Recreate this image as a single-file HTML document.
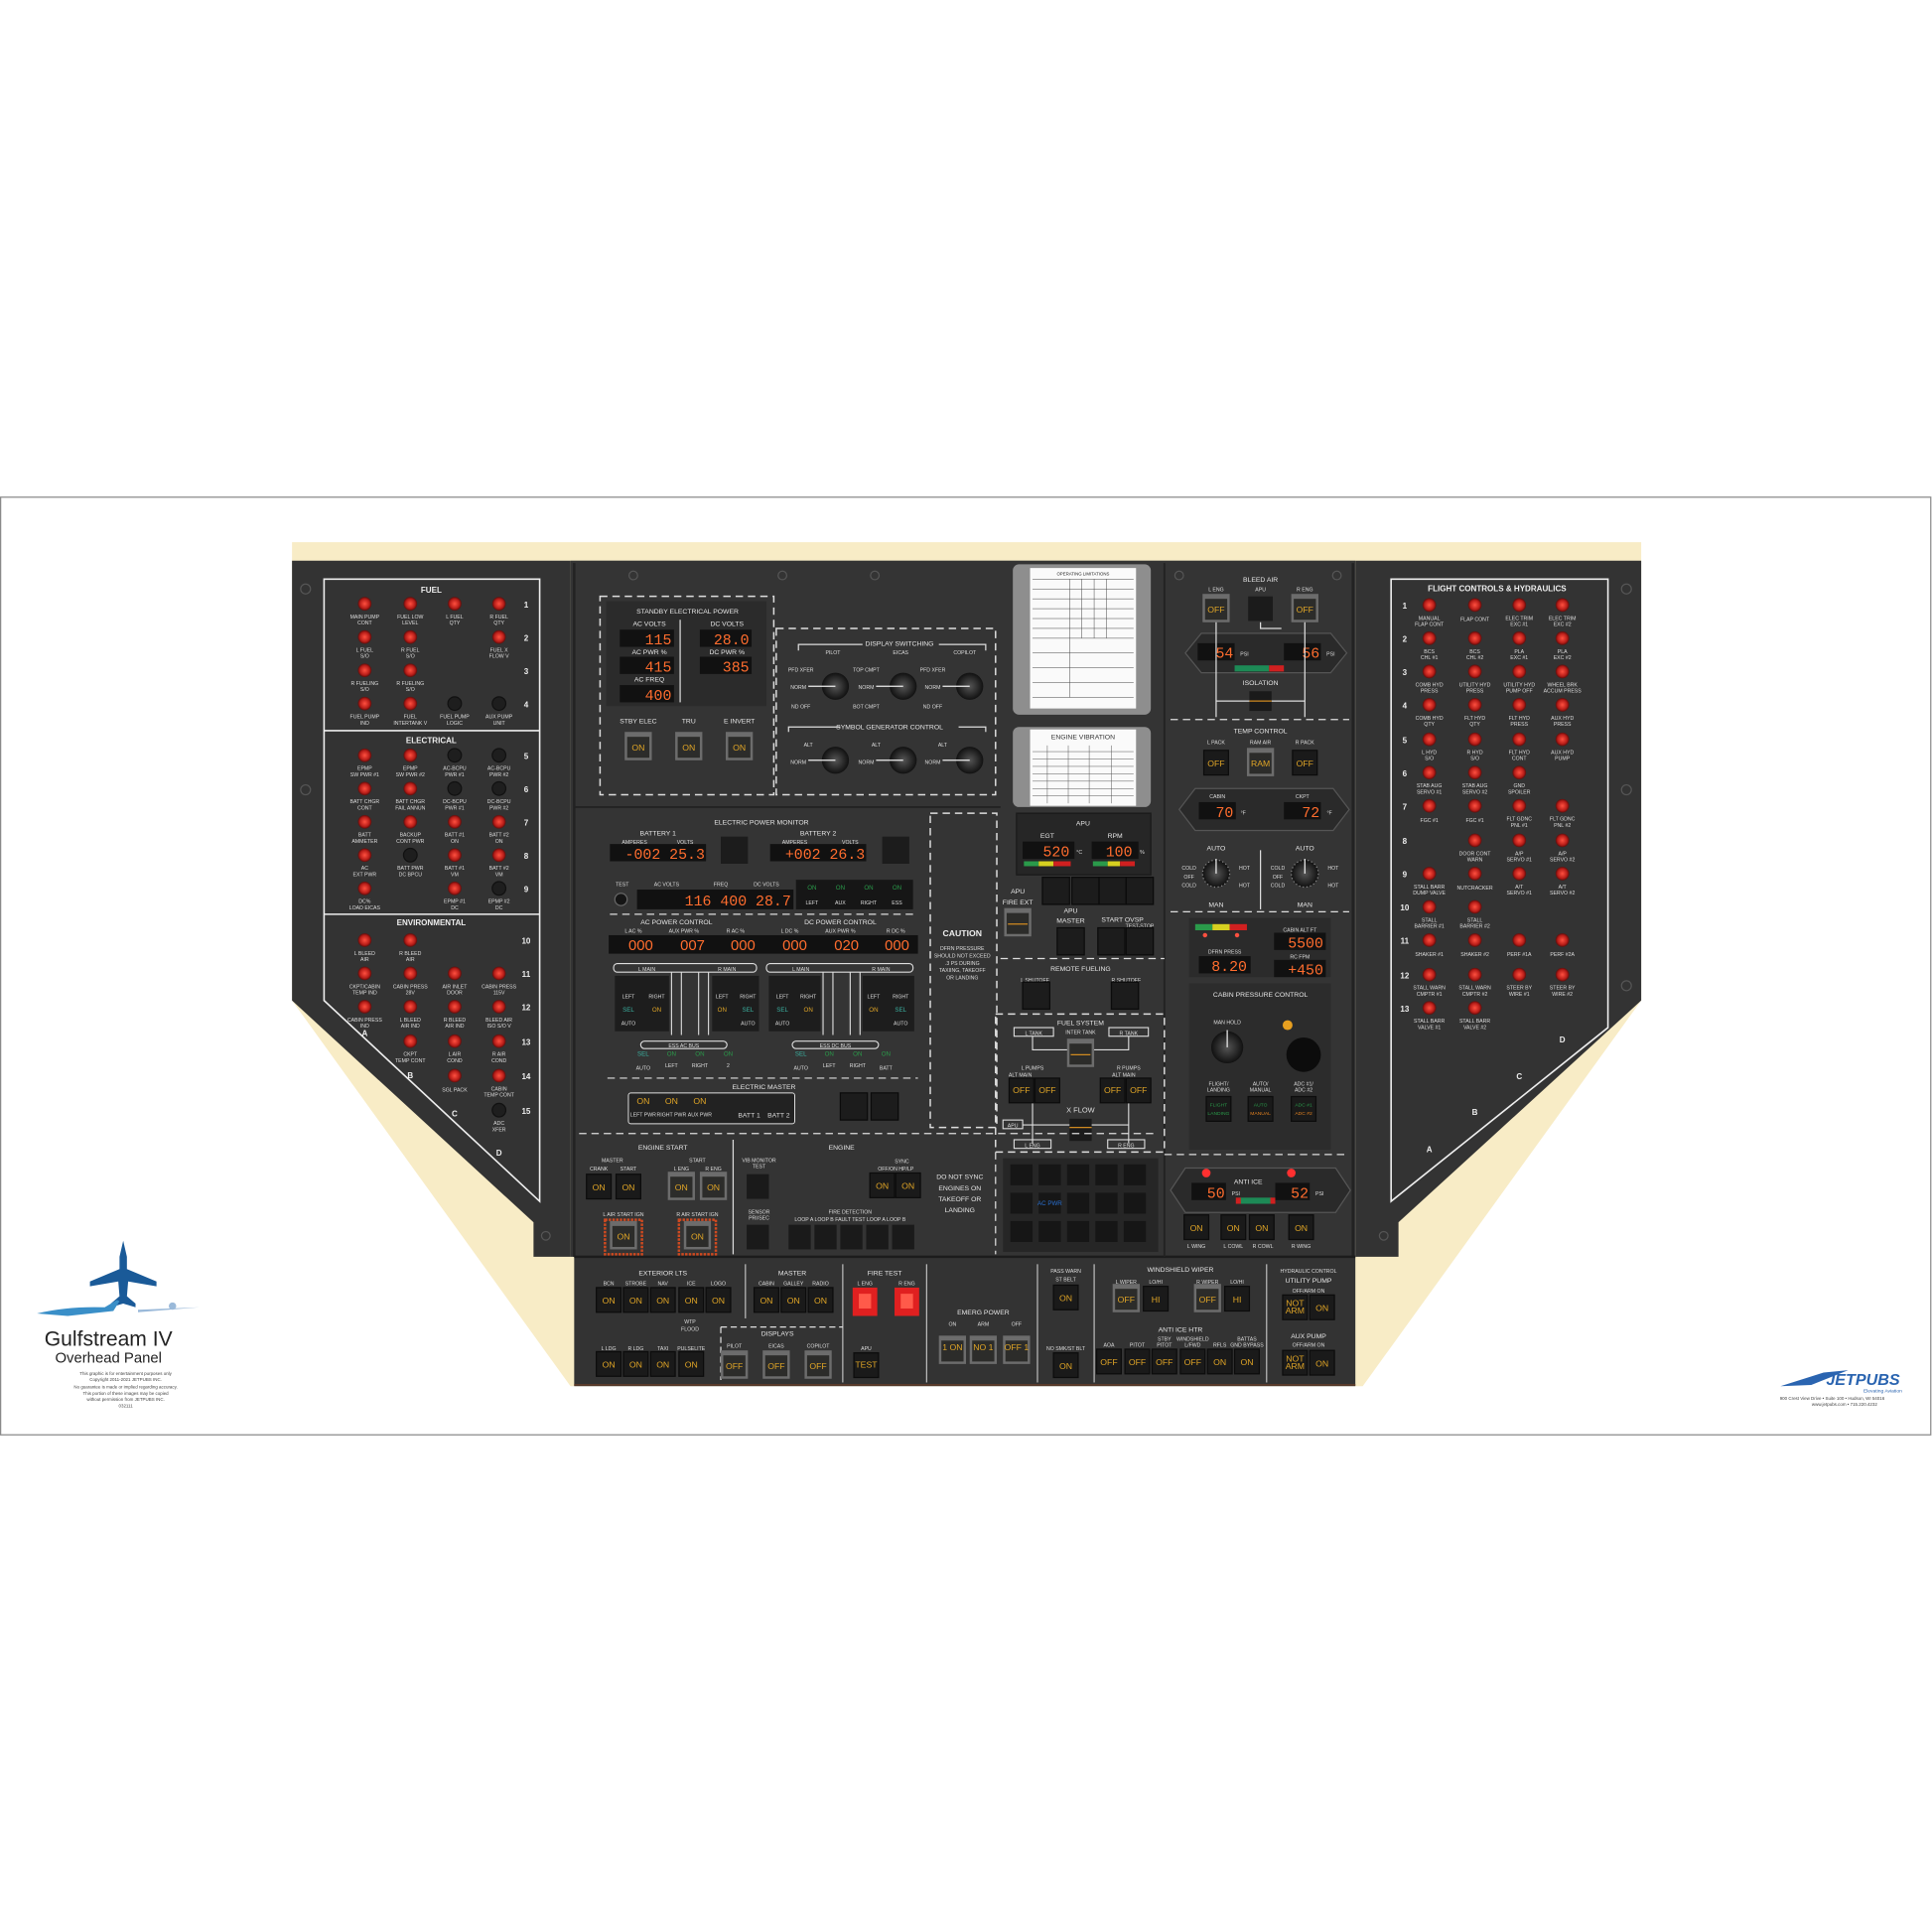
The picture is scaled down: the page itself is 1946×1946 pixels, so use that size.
<!DOCTYPE html>
<html><head><meta charset="utf-8"><style>
html,body{margin:0;padding:0;background:#fff;}
svg{display:block}
text{font-family:"Liberation Sans",sans-serif;}
.l{font-size:4.2px;fill:#ddd;text-anchor:middle}
.t{font-size:7px;fill:#eee;text-anchor:middle;font-weight:bold}
.s{font-size:5.5px;fill:#e6e6e6;text-anchor:middle}
.n{font-size:6.5px;fill:#eee;text-anchor:middle;font-weight:bold}
.d{font-family:"Liberation Mono",monospace;font-size:12px;fill:#ff6d2e;text-anchor:end}
.a{font-size:7px;fill:#e0a526;text-anchor:middle}
.dash{fill:none;stroke:#ddd;stroke-width:1.2;stroke-dasharray:6 4}
</style></head><body>
<svg width="1946" height="1946" viewBox="0 0 1568 1568" xmlns="http://www.w3.org/2000/svg">
<defs>
<radialGradient id="rg"><stop offset="0" stop-color="#ff5040"/><stop offset="0.7" stop-color="#b81d18"/><stop offset="1" stop-color="#5a0e0c"/></radialGradient>
<radialGradient id="kg"><stop offset="0" stop-color="#555"/><stop offset="1" stop-color="#111"/></radialGradient>
<g id="lt"><circle r="5.5" fill="url(#rg)"/></g>
<g id="dk"><circle r="5.5" fill="#1e1e1e" stroke="#111"/></g>
<g id="sw"><rect x="-10" y="-10" width="20" height="20" fill="#1a1a1a" stroke="#0c0c0c"/></g>
<g id="gs"><rect x="-11" y="-12" width="22" height="23" fill="#6c6c6c"/><rect x="-9" y="-8" width="18" height="17" fill="#2c2c2a"/></g>
<g id="kn"><circle r="11" fill="url(#kg)"/><line x1="-22" y1="0" x2="0" y2="0" stroke="#eee" stroke-width="1"/></g>
<g id="bx"><rect x="-11" y="-11" width="22" height="22" fill="#1c1c1c" stroke="#0b0b0b"/></g>
</defs>
<rect width="1568" height="1568" fill="#fff"/>
<rect x="0.5" y="403.5" width="1566.5" height="761" fill="#fff" stroke="#8a8a8a"/>
<!-- cream -->
<polygon points="237,440 1332,440 1332,812 1106,1125 463,1125 237,812" fill="#f8ecc6"/>
<!-- left wing -->
<polygon points="237,455 463,455 463,1020 433,1020 433,992 237,812" fill="#333333"/>
<polygon points="263,470 438,470 438,975 263,812" fill="none" stroke="#eee" stroke-width="1.3"/>
<line x1="263" y1="593" x2="438" y2="593" stroke="#eee" stroke-width="1.3"/>
<line x1="263" y1="742" x2="438" y2="742" stroke="#eee" stroke-width="1.3"/>
<!-- right wing -->
<polygon points="1100,455 1332,455 1332,812 1135,992 1135,1020 1100,1020" fill="#333333"/>
<polygon points="1129,470 1305,470 1305,834 1129,975" fill="none" stroke="#eee" stroke-width="1.3"/>
<!-- center -->
<rect x="463" y="455" width="637" height="565" fill="#343434"/>
<line x1="466" y1="457" x2="466" y2="1020" stroke="#222" stroke-width="2"/>
<line x1="1098" y1="457" x2="1098" y2="1020" stroke="#222" stroke-width="2"/>
<rect x="466" y="1020" width="634" height="105" fill="#333"/>
<line x1="466" y1="1020" x2="1100" y2="1020" stroke="#1c1c1c" stroke-width="2"/>
<line x1="466" y1="1124" x2="1100" y2="1124" stroke="#5a3a2a" stroke-width="1.5"/>
<line x1="466" y1="655" x2="812" y2="655" stroke="#222" stroke-width="1.5"/>
<line x1="945" y1="457" x2="945" y2="1020" stroke="#222" stroke-width="1.5"/>

<!-- LEFT WING TEXT -->
<text class="n" x="350" y="481">FUEL</text>
<text class="n" x="350" y="603">ELECTRICAL</text>
<text class="n" x="350" y="751">ENVIRONMENTAL</text>
<g class="n">
<text x="427" y="493">1</text><text x="427" y="520">2</text><text x="427" y="547">3</text><text x="427" y="574">4</text>
<text x="427" y="616">5</text><text x="427" y="643">6</text><text x="427" y="670">7</text><text x="427" y="697">8</text><text x="427" y="724">9</text>
<text x="427" y="766">10</text><text x="427" y="793">11</text><text x="427" y="820">12</text><text x="427" y="848">13</text><text x="427" y="876">14</text><text x="427" y="904">15</text>
<text x="296" y="841">A</text><text x="333" y="875">B</text><text x="369" y="906">C</text><text x="405" y="938">D</text>
</g>
<use href="#lt" x="296" y="490"/><use href="#lt" x="333" y="490"/><use href="#lt" x="369" y="490"/><use href="#lt" x="405" y="490"/>
<use href="#lt" x="296" y="517"/><use href="#lt" x="333" y="517"/><use href="#lt" x="405" y="517"/>
<use href="#lt" x="296" y="544"/><use href="#lt" x="333" y="544"/>
<use href="#lt" x="296" y="571"/><use href="#lt" x="333" y="571"/><use href="#dk" x="369" y="571"/><use href="#dk" x="405" y="571"/>
<use href="#lt" x="296" y="613"/><use href="#lt" x="333" y="613"/><use href="#dk" x="369" y="613"/><use href="#dk" x="405" y="613"/>
<use href="#lt" x="296" y="640"/><use href="#lt" x="333" y="640"/><use href="#dk" x="369" y="640"/><use href="#dk" x="405" y="640"/>
<use href="#lt" x="296" y="667"/><use href="#lt" x="333" y="667"/><use href="#lt" x="369" y="667"/><use href="#lt" x="405" y="667"/>
<use href="#lt" x="296" y="694"/><use href="#dk" x="333" y="694"/><use href="#lt" x="369" y="694"/><use href="#lt" x="405" y="694"/>
<use href="#lt" x="296" y="721"/><use href="#lt" x="369" y="721"/><use href="#dk" x="405" y="721"/>
<use href="#lt" x="296" y="763"/><use href="#lt" x="333" y="763"/>
<use href="#lt" x="296" y="790"/><use href="#lt" x="333" y="790"/><use href="#lt" x="369" y="790"/><use href="#lt" x="405" y="790"/>
<use href="#lt" x="296" y="817"/><use href="#lt" x="333" y="817"/><use href="#lt" x="369" y="817"/><use href="#lt" x="405" y="817"/>
<use href="#lt" x="333" y="845"/><use href="#lt" x="369" y="845"/><use href="#lt" x="405" y="845"/>
<use href="#lt" x="369" y="873"/><use href="#lt" x="405" y="873"/>
<use href="#dk" x="405" y="901"/>
<g class="l">
<text x="296" y="502">MAIN PUMP</text><text x="296" y="507">CONT</text>
<text x="333" y="502">FUEL LOW</text><text x="333" y="507">LEVEL</text>
<text x="369" y="502">L FUEL</text><text x="369" y="507">QTY</text>
<text x="405" y="502">R FUEL</text><text x="405" y="507">QTY</text>
<text x="296" y="529">L FUEL</text><text x="296" y="534">S/O</text>
<text x="333" y="529">R FUEL</text><text x="333" y="534">S/O</text>
<text x="405" y="529">FUEL X</text><text x="405" y="534">FLOW V</text>
<text x="296" y="556">R FUELING</text><text x="296" y="561">S/O</text>
<text x="333" y="556">R FUELING</text><text x="333" y="561">S/O</text>
<text x="296" y="583">FUEL PUMP</text><text x="296" y="588">IND</text>
<text x="333" y="583">FUEL</text><text x="333" y="588">INTERTANK V</text>
<text x="369" y="583">FUEL PUMP</text><text x="369" y="588">LOGIC</text>
<text x="405" y="583">AUX PUMP</text><text x="405" y="588">UNIT</text>
<text x="296" y="625">EPMP</text><text x="296" y="630">SW PWR #1</text>
<text x="333" y="625">EPMP</text><text x="333" y="630">SW PWR #2</text>
<text x="369" y="625">AC-BCPU</text><text x="369" y="630">PWR #1</text>
<text x="405" y="625">AC-BCPU</text><text x="405" y="630">PWR #2</text>
<text x="296" y="652">BATT CHGR</text><text x="296" y="657">CONT</text>
<text x="333" y="652">BATT CHGR</text><text x="333" y="657">FAIL ANNUN</text>
<text x="369" y="652">DC-BCPU</text><text x="369" y="657">PWR #1</text>
<text x="405" y="652">DC-BCPU</text><text x="405" y="657">PWR #2</text>
<text x="296" y="679">BATT</text><text x="296" y="684">AMMETER</text>
<text x="333" y="679">BACKUP</text><text x="333" y="684">CONT PWR</text>
<text x="369" y="679">BATT #1</text><text x="369" y="684">ON</text>
<text x="405" y="679">BATT #2</text><text x="405" y="684">ON</text>
<text x="296" y="706">AC</text><text x="296" y="711">EXT PWR</text>
<text x="333" y="706">BATT PWR</text><text x="333" y="711">DC BPCU</text>
<text x="369" y="706">BATT #1</text><text x="369" y="711">VM</text>
<text x="405" y="706">BATT #2</text><text x="405" y="711">VM</text>
<text x="296" y="733">DC%</text><text x="296" y="738">LOAD EICAS</text>
<text x="369" y="733">EPMP #1</text><text x="369" y="738">DC</text>
<text x="405" y="733">EPMP #2</text><text x="405" y="738">DC</text>
<text x="296" y="775">L BLEED</text><text x="296" y="780">AIR</text>
<text x="333" y="775">R BLEED</text><text x="333" y="780">AIR</text>
<text x="296" y="802">CKPT/CABIN</text><text x="296" y="807">TEMP IND</text>
<text x="333" y="802">CABIN PRESS</text><text x="333" y="807">28V</text>
<text x="369" y="802">AIR INLET</text><text x="369" y="807">DOOR</text>
<text x="405" y="802">CABIN PRESS</text><text x="405" y="807">115V</text>
<text x="296" y="829">CABIN PRESS</text><text x="296" y="834">IND</text>
<text x="333" y="829">L BLEED</text><text x="333" y="834">AIR IND</text>
<text x="369" y="829">R BLEED</text><text x="369" y="834">AIR IND</text>
<text x="405" y="829">BLEED AIR</text><text x="405" y="834">ISO S/O V</text>
<text x="333" y="857">CKPT</text><text x="333" y="862">TEMP CONT</text>
<text x="369" y="857">L AIR</text><text x="369" y="862">COND</text>
<text x="405" y="857">R AIR</text><text x="405" y="862">COND</text>
<text x="369" y="886">SGL PACK</text>
<text x="405" y="885">CABIN</text><text x="405" y="890">TEMP CONT</text>
<text x="405" y="913">ADC</text><text x="405" y="918">XFER</text>
</g>

<!-- RIGHT WING -->
<text class="n" x="1215" y="480">FLIGHT CONTROLS &amp; HYDRAULICS</text>
<g class="n">
<text x="1140" y="494">1</text><text x="1140" y="521">2</text><text x="1140" y="548">3</text><text x="1140" y="575">4</text><text x="1140" y="603">5</text><text x="1140" y="630">6</text><text x="1140" y="657">7</text><text x="1140" y="685">8</text><text x="1140" y="712">9</text><text x="1140" y="739">10</text><text x="1140" y="766">11</text><text x="1140" y="794">12</text><text x="1140" y="821">13</text>
<text x="1268" y="846">D</text><text x="1233" y="876">C</text><text x="1197" y="905">B</text><text x="1160" y="935">A</text>
</g>
<g>
<use href="#lt" x="1160" y="491"/><use href="#lt" x="1197" y="491"/><use href="#lt" x="1233" y="491"/><use href="#lt" x="1268" y="491"/>
<use href="#lt" x="1160" y="518"/><use href="#lt" x="1197" y="518"/><use href="#lt" x="1233" y="518"/><use href="#lt" x="1268" y="518"/>
<use href="#lt" x="1160" y="545"/><use href="#lt" x="1197" y="545"/><use href="#lt" x="1233" y="545"/><use href="#lt" x="1268" y="545"/>
<use href="#lt" x="1160" y="572"/><use href="#lt" x="1197" y="572"/><use href="#lt" x="1233" y="572"/><use href="#lt" x="1268" y="572"/>
<use href="#lt" x="1160" y="600"/><use href="#lt" x="1197" y="600"/><use href="#lt" x="1233" y="600"/><use href="#lt" x="1268" y="600"/>
<use href="#lt" x="1160" y="627"/><use href="#lt" x="1197" y="627"/><use href="#lt" x="1233" y="627"/>
<use href="#lt" x="1160" y="654"/><use href="#lt" x="1197" y="654"/><use href="#lt" x="1233" y="654"/><use href="#lt" x="1268" y="654"/>
<use href="#lt" x="1197" y="682"/><use href="#lt" x="1233" y="682"/><use href="#lt" x="1268" y="682"/>
<use href="#lt" x="1160" y="709"/><use href="#lt" x="1197" y="709"/><use href="#lt" x="1233" y="709"/><use href="#lt" x="1268" y="709"/>
<use href="#lt" x="1160" y="736"/><use href="#lt" x="1197" y="736"/>
<use href="#lt" x="1160" y="763"/><use href="#lt" x="1197" y="763"/><use href="#lt" x="1233" y="763"/><use href="#lt" x="1268" y="763"/>
<use href="#lt" x="1160" y="791"/><use href="#lt" x="1197" y="791"/><use href="#lt" x="1233" y="791"/><use href="#lt" x="1268" y="791"/>
<use href="#lt" x="1160" y="818"/><use href="#lt" x="1197" y="818"/>
</g>
<g class="l">
<text x="1160" y="503">MANUAL</text><text x="1160" y="508">FLAP CONT</text>
<text x="1197" y="504">FLAP CONT</text>
<text x="1233" y="503">ELEC TRIM</text><text x="1233" y="508">EXC #1</text>
<text x="1268" y="503">ELEC TRIM</text><text x="1268" y="508">EXC #2</text>
<text x="1160" y="530">BCS</text><text x="1160" y="535">CHL #1</text>
<text x="1197" y="530">BCS</text><text x="1197" y="535">CHL #2</text>
<text x="1233" y="530">PLA</text><text x="1233" y="535">EXC #1</text>
<text x="1268" y="530">PLA</text><text x="1268" y="535">EXC #2</text>
<text x="1160" y="557">COMB HYD</text><text x="1160" y="562">PRESS</text>
<text x="1197" y="557">UTILITY HYD</text><text x="1197" y="562">PRESS</text>
<text x="1233" y="557">UTILITY HYD</text><text x="1233" y="562">PUMP OFF</text>
<text x="1268" y="557">WHEEL BRK</text><text x="1268" y="562">ACCUM PRESS</text>
<text x="1160" y="584">COMB HYD</text><text x="1160" y="589">QTY</text>
<text x="1197" y="584">FLT HYD</text><text x="1197" y="589">QTY</text>
<text x="1233" y="584">FLT HYD</text><text x="1233" y="589">PRESS</text>
<text x="1268" y="584">AUX HYD</text><text x="1268" y="589">PRESS</text>
<text x="1160" y="612">L HYD</text><text x="1160" y="617">S/O</text>
<text x="1197" y="612">R HYD</text><text x="1197" y="617">S/O</text>
<text x="1233" y="612">FLT HYD</text><text x="1233" y="617">CONT</text>
<text x="1268" y="612">AUX HYD</text><text x="1268" y="617">PUMP</text>
<text x="1160" y="639">STAB AUG</text><text x="1160" y="644">SERVO #1</text>
<text x="1197" y="639">STAB AUG</text><text x="1197" y="644">SERVO #2</text>
<text x="1233" y="639">GND</text><text x="1233" y="644">SPOILER</text>
<text x="1160" y="667">FGC #1</text><text x="1197" y="667">FGC #1</text>
<text x="1233" y="666">FLT GDNC</text><text x="1233" y="671">PNL #1</text>
<text x="1268" y="666">FLT GDNC</text><text x="1268" y="671">PNL #2</text>
<text x="1197" y="694">DOOR CONT</text><text x="1197" y="699">WARN</text>
<text x="1233" y="694">A/P</text><text x="1233" y="699">SERVO #1</text>
<text x="1268" y="694">A/P</text><text x="1268" y="699">SERVO #2</text>
<text x="1160" y="721">STALL BARR</text><text x="1160" y="726">DUMP VALVE</text>
<text x="1197" y="722">NUTCRACKER</text>
<text x="1233" y="721">A/T</text><text x="1233" y="726">SERVO #1</text>
<text x="1268" y="721">A/T</text><text x="1268" y="726">SERVO #2</text>
<text x="1160" y="748">STALL</text><text x="1160" y="753">BARRIER #1</text>
<text x="1197" y="748">STALL</text><text x="1197" y="753">BARRIER #2</text>
<text x="1160" y="776">SHAKER #1</text><text x="1197" y="776">SHAKER #2</text>
<text x="1233" y="776">PERF #1A</text><text x="1268" y="776">PERF #2A</text>
<text x="1160" y="803">STALL WARN</text><text x="1160" y="808">CMPTR #1</text>
<text x="1197" y="803">STALL WARN</text><text x="1197" y="808">CMPTR #2</text>
<text x="1233" y="803">STEER BY</text><text x="1233" y="808">WIRE #1</text>
<text x="1268" y="803">STEER BY</text><text x="1268" y="808">WIRE #2</text>
<text x="1160" y="830">STALL BARR</text><text x="1160" y="835">VALVE #1</text>
<text x="1197" y="830">STALL BARR</text><text x="1197" y="835">VALVE #2</text>
</g>

<!-- STANDBY ELECTRICAL POWER -->
<rect class="dash" x="487" y="484" width="141" height="161"/>
<rect x="492" y="488" width="130" height="85" fill="#2b2b2b"/>
<text class="s" x="558" y="498">STANDBY ELECTRICAL POWER</text>
<line x1="552" y1="503" x2="552" y2="570" stroke="#ddd"/>
<text class="s" x="527" y="508">AC VOLTS</text><text class="s" x="590" y="508">DC VOLTS</text>
<rect x="503" y="511" width="44" height="14" fill="#111"/><text class="d" x="545" y="523">115</text>
<rect x="568" y="511" width="42" height="14" fill="#111"/><text class="d" x="608" y="523">28.0</text>
<text class="s" x="527" y="531">AC PWR %</text><text class="s" x="590" y="531">DC PWR %</text>
<rect x="503" y="533" width="44" height="14" fill="#111"/><text class="d" x="545" y="545">415</text>
<rect x="568" y="533" width="42" height="14" fill="#111"/><text class="d" x="608" y="545">385</text>
<text class="s" x="527" y="553">AC FREQ</text>
<rect x="503" y="556" width="44" height="14" fill="#111"/><text class="d" x="545" y="568">400</text>
<text class="s" x="518" y="587">STBY ELEC</text><text class="s" x="559" y="587">TRU</text><text class="s" x="600" y="587">E INVERT</text>
<use href="#gs" x="518" y="606"/><use href="#gs" x="559" y="606"/><use href="#gs" x="600" y="606"/>
<text class="a" x="518" y="609">ON</text><text class="a" x="559" y="609">ON</text><text class="a" x="600" y="609">ON</text>

<!-- DISPLAY SWITCHING -->
<rect class="dash" x="630" y="510" width="178" height="135"/>
<text class="s" x="730" y="524">DISPLAY SWITCHING</text>
<path d="M648,528 V523 H700 M762,523 H800 V528 M640,594 V590 H682 M778,590 H800 V594" stroke="#ddd" fill="none"/>
<text class="l" x="676" y="531">PILOT</text><text class="l" x="731" y="531">EICAS</text><text class="l" x="783" y="531">COPILOT</text>
<use href="#kn" x="678" y="557"/><use href="#kn" x="733" y="557"/><use href="#kn" x="787" y="557"/>
<use href="#kn" x="678" y="617"/><use href="#kn" x="733" y="617"/><use href="#kn" x="787" y="617"/>
<g class="l"><text x="650" y="545">PFD XFER</text><text x="648" y="559">NORM</text><text x="650" y="575">ND OFF</text>
<text x="703" y="545">TOP CMPT</text><text x="703" y="559">NORM</text><text x="703" y="575">BOT CMPT</text>
<text x="757" y="545">PFD XFER</text><text x="757" y="559">NORM</text><text x="757" y="575">ND OFF</text>
<text x="656" y="606">ALT</text><text x="648" y="620">NORM</text><text x="711" y="606">ALT</text><text x="703" y="620">NORM</text><text x="765" y="606">ALT</text><text x="757" y="620">NORM</text></g>
<text class="s" x="722" y="592">SYMBOL GENERATOR CONTROL</text>

<!-- placards -->
<rect x="822" y="458" width="112" height="122" rx="5" fill="#8e8e8e"/>
<rect x="836" y="461" width="86" height="114" fill="#fafafa"/>
<g stroke="#444" stroke-width="0.4">
<line x1="838" y1="470" x2="920" y2="470"/><line x1="838" y1="478" x2="920" y2="478"/><line x1="838" y1="486" x2="920" y2="486"/><line x1="838" y1="494" x2="920" y2="494"/><line x1="838" y1="502" x2="920" y2="502"/><line x1="838" y1="510" x2="920" y2="510"/><line x1="838" y1="518" x2="920" y2="518"/><line x1="838" y1="530" x2="920" y2="530"/><line x1="838" y1="542" x2="920" y2="542"/><line x1="838" y1="554" x2="920" y2="554"/><line x1="838" y1="566" x2="920" y2="566"/>
<line x1="868" y1="470" x2="868" y2="566"/><line x1="878" y1="470" x2="878" y2="518"/><line x1="888" y1="470" x2="888" y2="518"/><line x1="898" y1="470" x2="898" y2="518"/>
</g>
<text x="879" y="467" font-size="3.5" text-anchor="middle" fill="#222">OPERATING LIMITATIONS</text>
<rect x="822" y="590" width="112" height="65" rx="5" fill="#8e8e8e"/>
<rect x="836" y="592" width="86" height="62" fill="#fafafa"/>
<text x="879" y="600" font-size="5.5" text-anchor="middle" fill="#333">ENGINE VIBRATION</text>
<g stroke="#555" stroke-width="0.4">
<line x1="838" y1="610" x2="920" y2="610"/><line x1="838" y1="616" x2="920" y2="616"/><line x1="838" y1="622" x2="920" y2="622"/><line x1="838" y1="628" x2="920" y2="628"/><line x1="838" y1="634" x2="920" y2="634"/><line x1="838" y1="640" x2="920" y2="640"/><line x1="838" y1="646" x2="920" y2="646"/>
<line x1="850" y1="605" x2="850" y2="652"/><line x1="867" y1="605" x2="867" y2="652"/><line x1="884" y1="605" x2="884" y2="652"/><line x1="902" y1="605" x2="902" y2="652"/>
</g>

<!-- ELECTRIC POWER MONITOR -->
<rect class="dash" x="755" y="660" width="54" height="255"/>
<text class="s" x="618" y="669">ELECTRIC POWER MONITOR</text>
<text class="s" x="534" y="678">BATTERY 1</text><text class="s" x="664" y="678">BATTERY 2</text>
<text class="l" x="515" y="685">AMPERES</text><text class="l" x="556" y="685">VOLTS</text><text class="l" x="645" y="685">AMPERES</text><text class="l" x="690" y="685">VOLTS</text>
<rect x="495" y="685" width="78" height="14" fill="#111"/><text class="d" x="572" y="697">-002 25.3</text>
<rect x="585" y="679" width="22" height="22" fill="#1c1c1c"/>
<rect x="625" y="685" width="78" height="14" fill="#111"/><text class="d" x="702" y="697">+002 26.3</text>
<rect x="716" y="679" width="22" height="22" fill="#1c1c1c"/>
<text class="l" x="505" y="719">TEST</text><circle cx="504" cy="730" r="5" fill="#151515" stroke="#666"/>
<text class="l" x="541" y="719">AC VOLTS</text><text class="l" x="585" y="719">FREQ</text><text class="l" x="622" y="719">DC VOLTS</text>
<rect x="517" y="722" width="127" height="16" fill="#111"/><text class="d" x="642" y="735">116 400 28.7</text>
<rect x="646" y="714" width="95" height="24" fill="#161616"/>
<g font-size="5" fill="#2a9a4a" text-anchor="middle"><text x="659" y="722">ON</text><text x="682" y="722">ON</text><text x="705" y="722">ON</text><text x="728" y="722">ON</text></g>
<g class="l" font-size="6"><text x="659" y="734">LEFT</text><text x="682" y="734">AUX</text><text x="705" y="734">RIGHT</text><text x="728" y="734">ESS</text></g>
<line x1="495" y1="742" x2="745" y2="742" stroke="#ddd" stroke-dasharray="6 4"/>
<text class="s" x="549" y="750">AC POWER CONTROL</text><text class="s" x="682" y="750">DC POWER CONTROL</text>
<g class="l"><text x="514" y="757">L AC %</text><text x="555" y="757">AUX PWR %</text><text x="597" y="757">R AC %</text><text x="641" y="757">L DC %</text><text x="682" y="757">AUX PWR %</text><text x="727" y="757">R DC %</text></g>
<rect x="494" y="759" width="251" height="15" fill="#111"/>
<g class="d" text-anchor="middle"><text x="520" y="771" text-anchor="middle">000</text><text x="562" y="771" text-anchor="middle">007</text><text x="603" y="771" text-anchor="middle">000</text><text x="645" y="771" text-anchor="middle">000</text><text x="687" y="771" text-anchor="middle">020</text><text x="728" y="771" text-anchor="middle">000</text></g>
<g fill="none" stroke="#ddd" stroke-width="0.9">
<rect x="498" y="782" width="116" height="7" rx="3"/><rect x="622" y="782" width="119" height="7" rx="3"/>
<rect x="520" y="845" width="70" height="6" rx="3"/><rect x="643" y="845" width="70" height="6" rx="3"/>
<path d="M545,789 V840 M553,789 V840 M567,789 V840 M575,789 V840 M668,789 V840 M676,789 V840 M690,789 V840 M698,789 V840"/>
</g>
<g class="l" font-size="5"><text x="525" y="788">L MAIN</text><text x="590" y="788">R MAIN</text><text x="650" y="788">L MAIN</text><text x="715" y="788">R MAIN</text><text x="555" y="850">ESS  AC  BUS</text><text x="678" y="850">ESS  DC  BUS</text></g>
<rect x="499" y="792" width="44" height="45" fill="#1d1d1d"/><rect x="578" y="792" width="38" height="45" fill="#1d1d1d"/>
<rect x="624" y="792" width="42" height="45" fill="#1d1d1d"/><rect x="700" y="792" width="42" height="45" fill="#1d1d1d"/>
<g class="l" font-size="6"><text x="510" y="810">LEFT</text><text x="533" y="810">RIGHT</text><text x="586" y="810">LEFT</text><text x="607" y="810">RIGHT</text><text x="635" y="810">LEFT</text><text x="656" y="810">RIGHT</text><text x="709" y="810">LEFT</text><text x="731" y="810">RIGHT</text>
<text x="510" y="832">AUTO</text><text x="607" y="832">AUTO</text><text x="635" y="832">AUTO</text><text x="731" y="832">AUTO</text></g>
<g font-size="5" text-anchor="middle"><text x="510" y="821" fill="#3ab0a0">SEL</text><text x="533" y="821" fill="#e0a526">ON</text><text x="586" y="821" fill="#e0a526">ON</text><text x="607" y="821" fill="#3ab0a0">SEL</text><text x="635" y="821" fill="#3ab0a0">SEL</text><text x="656" y="821" fill="#e0a526">ON</text><text x="709" y="821" fill="#e0a526">ON</text><text x="731" y="821" fill="#3ab0a0">SEL</text>
<text x="522" y="857" fill="#3ab0a0">SEL</text><text x="545" y="857" fill="#2a9a4a">ON</text><text x="568" y="857" fill="#2a9a4a">ON</text><text x="591" y="857" fill="#2a9a4a">ON</text>
<text x="650" y="857" fill="#3ab0a0">SEL</text><text x="673" y="857" fill="#2a9a4a">ON</text><text x="696" y="857" fill="#2a9a4a">ON</text><text x="719" y="857" fill="#2a9a4a">ON</text></g>
<g class="l" font-size="5.5"><text x="522" y="868">AUTO</text><text x="545" y="866">LEFT</text><text x="568" y="866">RIGHT</text><text x="591" y="866">2</text><text x="650" y="868">AUTO</text><text x="673" y="866">LEFT</text><text x="696" y="866">RIGHT</text><text x="719" y="868">BATT</text></g>
<line x1="493" y1="875" x2="745" y2="875" stroke="#ddd" stroke-dasharray="6 4"/>
<text class="s" x="620" y="884">ELECTRIC MASTER</text>
<rect x="510" y="887" width="135" height="25" rx="2" fill="#222" stroke="#ddd" stroke-width="0.8"/>
<g class="a" font-size="5.5"><text x="522" y="896">ON</text><text x="545" y="896">ON</text><text x="568" y="896">ON</text></g>
<g class="l"><text x="522" y="906">LEFT PWR</text><text x="545" y="906">RIGHT PWR</text><text x="568" y="906">AUX PWR</text><text x="608" y="907" font-size="5.5">BATT 1</text><text x="632" y="907" font-size="5.5">BATT 2</text></g>
<use href="#bx" x="693" y="898"/><use href="#bx" x="718" y="898"/>

<!-- CAUTION -->
<text class="t" x="781" y="760" font-size="9">CAUTION</text>
<g class="l"><text x="781" y="771">DFRN PRESSURE</text><text x="781" y="777">SHOULD NOT EXCEED</text><text x="781" y="783">.3 PS DURING</text><text x="781" y="789">TAXIING, TAKEOFF</text><text x="781" y="795">OR LANDING</text></g>

<!-- APU -->
<rect x="825" y="660" width="109" height="50" fill="#262626" stroke="#1a1a1a"/>
<text class="s" x="879" y="670">APU</text><text class="s" x="850" y="680">EGT</text><text class="s" x="905" y="680">RPM</text>
<rect x="830" y="683" width="42" height="14" fill="#111"/><text class="d" x="868" y="695">520</text><text class="l" x="876" y="693">°C</text>
<rect x="886" y="683" width="38" height="14" fill="#111"/><text class="d" x="919" y="695">100</text><text class="l" x="927" y="693">%</text>
<rect x="831" y="699" width="12" height="4" fill="#2a9a4a"/><rect x="843" y="699" width="12" height="4" fill="#d6d020"/><rect x="855" y="699" width="14" height="4" fill="#d02020"/>
<rect x="887" y="699" width="12" height="4" fill="#2a9a4a"/><rect x="899" y="699" width="10" height="4" fill="#d6d020"/><rect x="909" y="699" width="12" height="4" fill="#d02020"/>
<use href="#bx" x="857" y="723"/><use href="#bx" x="881" y="723"/><use href="#bx" x="903" y="723"/><use href="#bx" x="925" y="723"/>
<text class="s" x="826" y="725" font-size="7">APU</text><text class="s" x="826" y="734" font-size="7">FIRE EXT</text>
<use href="#gs" x="826" y="749"/><line x1="818" y1="750" x2="834" y2="750" stroke="#d08a20"/>
<text class="s" x="869" y="741">APU</text><text class="s" x="869" y="749">MASTER</text>
<text class="s" x="911" y="748">START  OVSP</text><text class="l" x="925" y="753">TEST-STOP</text>
<use href="#bx" x="869" y="764"/><use href="#bx" x="902" y="764"/><use href="#bx" x="925" y="764"/>
<line x1="812" y1="778" x2="945" y2="778" stroke="#ddd" stroke-dasharray="6 4"/>
<text class="s" x="877" y="788" font-size="7">REMOTE FUELING</text>
<text class="l" x="840" y="797" font-size="5.5">L SHUTOFF</text><text class="l" x="914" y="797" font-size="5.5">R SHUTOFF</text>
<use href="#bx" x="841" y="808"/><use href="#bx" x="913" y="808"/>
<rect class="dash" x="808" y="823" width="137" height="112"/>
<text class="s" x="877" y="832" font-size="7">FUEL SYSTEM</text>
<g fill="none" stroke="#ddd" stroke-width="0.9"><rect x="823" y="834" width="32" height="7"/><rect x="900" y="834" width="32" height="7"/><path d="M838,841 V852 H916 V841 M838,880 V928 M916,880 V928 M830,913 H916"/><rect x="823" y="925" width="30" height="7"/><rect x="899" y="925" width="30" height="7"/><rect x="814" y="909" width="16" height="7"/></g>
<g class="l" font-size="5"><text x="839" y="840">L TANK</text><text x="877" y="839">INTER TANK</text><text x="916" y="840">R TANK</text><text x="838" y="868">L PUMPS</text><text x="916" y="868">R PUMPS</text><text x="828" y="874">ALT  MAIN</text><text x="912" y="874">ALT  MAIN</text><text x="877" y="903" font-size="6">X FLOW</text><text x="822" y="915">APU</text><text x="838" y="931">L ENG</text><text x="914" y="931">R ENG</text></g>
<use href="#gs" x="877" y="855"/><line x1="869" y1="856" x2="885" y2="856" stroke="#d08a20"/>
<use href="#sw" x="829" y="885"/><use href="#sw" x="850" y="885"/><use href="#sw" x="903" y="885"/><use href="#sw" x="924" y="885"/>
<g class="a" font-size="6"><text x="829" y="887">OFF</text><text x="850" y="887">OFF</text><text x="903" y="887">OFF</text><text x="924" y="887">OFF</text></g>
<rect x="868" y="908" width="18" height="18" fill="#1a1a1a"/><line x1="868" y1="915" x2="886" y2="915" stroke="#d08a20"/>

<!-- BLEED AIR / TEMP -->
<text class="s" x="1023" y="472" font-size="7">BLEED AIR</text>
<text class="l" x="987" y="480" font-size="5.5">L ENG</text><text class="l" x="1023" y="480" font-size="5.5">APU</text><text class="l" x="1059" y="480" font-size="5.5">R ENG</text>
<use href="#gs" x="987" y="494"/><use href="#gs" x="1059" y="494"/><rect x="1013" y="484" width="20" height="20" fill="#1b1b1b"/>
<text class="a" x="987" y="497">OFF</text><text class="a" x="1059" y="497">OFF</text>
<polygon points="962,530 975,514 1080,514 1093,530 1080,546 975,546" fill="#2a2a2a" stroke="#555"/>
<rect x="972" y="522" width="30" height="14" fill="#111"/><text class="d" x="1001" y="534">54</text><text class="l" x="1010" y="532">PSI</text>
<rect x="1042" y="522" width="30" height="14" fill="#111"/><text class="d" x="1071" y="534">56</text><text class="l" x="1080" y="532">PSI</text>
<rect x="1002" y="540" width="28" height="5" fill="#1d8a56"/><rect x="1030" y="540" width="12" height="5" fill="#d02020"/>
<text class="s" x="1023" y="556">ISOLATION</text>
<path d="M987,505 V582 M1059,505 V582 M987,569 H1059 M1023,505 V510 H1040" stroke="#ddd" fill="none"/>
<rect x="1014" y="561" width="18" height="16" fill="#1a1a1a"/><line x1="1014" y1="569" x2="1032" y2="569" stroke="#d08a20"/>
<line x1="950" y1="584" x2="1095" y2="584" stroke="#ddd" stroke-dasharray="6 4"/>
<text class="s" x="1023" y="595" font-size="7">TEMP CONTROL</text>
<text class="l" x="987" y="604" font-size="5.5">L PACK</text><text class="l" x="1023" y="604" font-size="5.5">RAM AIR</text><text class="l" x="1059" y="604" font-size="5.5">R PACK</text>
<use href="#sw" x="987" y="619"/><use href="#gs" x="1023" y="619"/><use href="#sw" x="1059" y="619"/>
<text class="a" x="987" y="622">OFF</text><text class="a" x="1023" y="622">RAM</text><text class="a" x="1059" y="622">OFF</text>
<polygon points="957,657 970,640 1082,640 1095,657 1082,674 970,674" fill="#2a2a2a" stroke="#555"/>
<text class="l" x="988" y="648" font-size="5.5">CABIN</text><text class="l" x="1057" y="648" font-size="5.5">CKPT</text>
<rect x="973" y="651" width="30" height="14" fill="#111"/><text class="d" x="1001" y="663">70</text><text class="l" x="1009" y="661">°F</text>
<rect x="1042" y="651" width="30" height="14" fill="#111"/><text class="d" x="1071" y="663">72</text><text class="l" x="1079" y="661">°F</text>
<text class="s" x="987" y="690" font-size="7">AUTO</text><text class="s" x="1059" y="690" font-size="7">AUTO</text>
<circle cx="987" cy="709" r="11" fill="url(#kg)" stroke="#888" stroke-dasharray="1 2"/><circle cx="1059" cy="709" r="11" fill="url(#kg)" stroke="#888" stroke-dasharray="1 2"/>
<line x1="987" y1="709" x2="987" y2="697" stroke="#eee"/><line x1="1059" y1="709" x2="1059" y2="697" stroke="#eee"/>
<g class="l"><text x="965" y="706">COLD</text><text x="965" y="713">OFF</text><text x="965" y="720">COLD</text><text x="1010" y="706">HOT</text><text x="1010" y="720">HOT</text>
<text x="1037" y="706">COLD</text><text x="1037" y="713">OFF</text><text x="1037" y="720">COLD</text><text x="1082" y="706">HOT</text><text x="1082" y="720">HOT</text></g>
<text class="s" x="987" y="736" font-size="7">MAN</text><text class="s" x="1059" y="736" font-size="7">MAN</text>
<line x1="1023" y1="690" x2="1023" y2="738" stroke="#ddd"/>
<line x1="950" y1="740" x2="1095" y2="740" stroke="#ddd" stroke-dasharray="6 4"/>
<!-- cabin pressure -->
<rect x="965" y="745" width="115" height="48" fill="#2b2b2b"/>
<rect x="970" y="750" width="14" height="5" fill="#2a9a4a"/><rect x="984" y="750" width="14" height="5" fill="#d6d020"/><rect x="998" y="750" width="14" height="5" fill="#d02020"/>
<circle cx="978" cy="759" r="1.8" fill="#ff5040"/><circle cx="1004" cy="759" r="1.8" fill="#ff5040"/>
<text class="l" x="994" y="774" font-size="5.5">DFRN PRESS</text>
<rect x="973" y="776" width="42" height="14" fill="#111"/><text class="d" x="1012" y="788">8.20</text>
<text class="l" x="1055" y="756" font-size="5.5">CABIN ALT FT</text>
<rect x="1034" y="757" width="42" height="14" fill="#111"/><text class="d" x="1074" y="769">5500</text>
<text class="l" x="1055" y="778" font-size="5.5">RC    FPM</text>
<rect x="1034" y="779" width="42" height="14" fill="#111"/><text class="d" x="1074" y="791">+450</text>
<rect x="965" y="798" width="115" height="135" fill="#2c2c2c"/>
<text class="s" x="1023" y="809" font-size="7">CABIN PRESSURE CONTROL</text>
<text class="l" x="996" y="831" font-size="5">MAN HOLD</text>
<circle cx="996" cy="850" r="13" fill="url(#kg)"/><line x1="996" y1="850" x2="996" y2="836" stroke="#eee"/>
<circle cx="1045" cy="832" r="4" fill="#e8a020"/>
<circle cx="1058" cy="856" r="14" fill="#0c0c0c"/>
<text class="l" x="989" y="881" font-size="5">FLIGHT/</text><text class="l" x="989" y="886" font-size="5">LANDING</text>
<text class="l" x="1023" y="881" font-size="5">AUTO/</text><text class="l" x="1023" y="886" font-size="5">MANUAL</text>
<text class="l" x="1058" y="881" font-size="5">ADC #1/</text><text class="l" x="1058" y="886" font-size="5">ADC #2</text>
<use href="#sw" x="989" y="900"/><use href="#sw" x="1023" y="900"/><use href="#sw" x="1058" y="900"/>
<g font-size="4" text-anchor="middle"><text x="989" y="898" fill="#2a9a4a">FLIGHT</text><text x="989" y="905" fill="#2a9a4a">LANDING</text><text x="1023" y="898" fill="#2a9a4a">AUTO</text><text x="1023" y="905" fill="#e08020">MANUAL</text><text x="1058" y="898" fill="#2a9a4a">ADC #1</text><text x="1058" y="905" fill="#e08020">ADC #2</text></g>

<!-- ENGINE row -->
<line x1="470" y1="920" x2="940" y2="920" stroke="#ddd" stroke-dasharray="6 4"/>
<line x1="945" y1="937" x2="1095" y2="937" stroke="#ddd" stroke-dasharray="6 4"/>
<line x1="595" y1="925" x2="595" y2="1018" stroke="#ddd"/>
<line x1="808" y1="925" x2="808" y2="1018" stroke="#ddd" stroke-dasharray="6 4"/>
<text class="s" x="538" y="933" font-size="7">ENGINE  START</text>
<text class="s" x="683" y="933" font-size="7">ENGINE</text>
<text class="l" x="497" y="943" font-size="5">MASTER</text><text class="l" x="566" y="943" font-size="5">START</text>
<text class="l" x="486" y="950" font-size="5">CRANK</text><text class="l" x="510" y="950" font-size="5">START</text><text class="l" x="553" y="950" font-size="5">L ENG</text><text class="l" x="579" y="950" font-size="5">R ENG</text>
<use href="#sw" x="486" y="963"/><use href="#sw" x="510" y="963"/><use href="#gs" x="553" y="963"/><use href="#gs" x="579" y="963"/>
<g class="a"><text x="486" y="966">ON</text><text x="510" y="966">ON</text><text x="553" y="966">ON</text><text x="579" y="966">ON</text></g>
<text class="l" x="506" y="987" font-size="5">L AIR START IGN</text><text class="l" x="566" y="987" font-size="5">R AIR START IGN</text>
<rect x="491" y="990" width="30" height="28" fill="none" stroke="#d04a20" stroke-width="2" stroke-dasharray="2 1"/>
<rect x="551" y="990" width="30" height="28" fill="none" stroke="#d04a20" stroke-width="2" stroke-dasharray="2 1"/>
<use href="#gs" x="506" y="1003"/><use href="#gs" x="566" y="1003"/>
<text class="a" x="506" y="1006">ON</text><text class="a" x="566" y="1006">ON</text>
<text class="l" x="616" y="943" font-size="5">VIB MONITOR</text><text class="l" x="616" y="948">TEST</text>
<rect x="606" y="953" width="18" height="20" fill="#1a1a1a"/>
<text class="l" x="616" y="985" font-size="5.5">SENSOR</text><text class="l" x="616" y="990">PRI/SEC</text>
<rect x="606" y="994" width="18" height="20" fill="#1a1a1a"/>
<text class="l" x="732" y="944" font-size="5">SYNC</text><text class="l" x="727" y="950" font-size="5">OFF/ON  HP/LP</text>
<use href="#sw" x="716" y="962"/><use href="#sw" x="737" y="962"/>
<text class="a" x="716" y="965">ON</text><text class="a" x="737" y="965">ON</text>
<g class="s" font-size="6.5"><text x="779" y="957">DO NOT SYNC</text><text x="779" y="966">ENGINES ON</text><text x="779" y="975">TAKEOFF OR</text><text x="779" y="984">LANDING</text></g>
<text class="l" x="690" y="985" font-size="5">FIRE DETECTION</text>
<text class="l" x="690" y="991">LOOP A  LOOP B  FAULT TEST  LOOP A  LOOP B</text>
<g fill="#1a1a1a"><rect x="640" y="994" width="18" height="20"/><rect x="661" y="994" width="18" height="20"/><rect x="682" y="994" width="18" height="20"/><rect x="703" y="994" width="18" height="20"/><rect x="724" y="994" width="18" height="20"/></g>
<!-- grid -->
<rect x="814" y="940" width="126" height="76" fill="#262626"/>
<g fill="#161616">
<rect x="820" y="945" width="18" height="17"/><rect x="843" y="945" width="18" height="17"/><rect x="866" y="945" width="18" height="17"/><rect x="889" y="945" width="18" height="17"/><rect x="912" y="945" width="18" height="17"/>
<rect x="820" y="968" width="18" height="17"/><rect x="843" y="968" width="18" height="17"/><rect x="866" y="968" width="18" height="17"/><rect x="889" y="968" width="18" height="17"/><rect x="912" y="968" width="18" height="17"/>
<rect x="820" y="991" width="18" height="17"/><rect x="843" y="991" width="18" height="17"/><rect x="866" y="991" width="18" height="17"/><rect x="889" y="991" width="18" height="17"/><rect x="912" y="991" width="18" height="17"/>
</g>
<text x="852" y="978" font-size="5" fill="#2a70d0" text-anchor="middle">AC PWR</text>
<!-- anti ice -->
<polygon points="950,966 962,948 1084,948 1096,966 1084,984 962,984" fill="#2a2a2a" stroke="#555"/>
<circle cx="979" cy="952" r="3.5" fill="#ff3030"/><circle cx="1048" cy="952" r="3.5" fill="#ff3030"/>
<text class="s" x="1013" y="961" font-size="7">ANTI ICE</text>
<rect x="967" y="960" width="28" height="14" fill="#111"/><text class="d" x="994" y="972">50</text><text class="l" x="1003" y="970">PSI</text>
<rect x="1035" y="960" width="28" height="14" fill="#111"/><text class="d" x="1062" y="972">52</text><text class="l" x="1071" y="970">PSI</text>
<rect x="1006" y="972" width="26" height="5" fill="#1d8a56"/><rect x="1003" y="972" width="4" height="5" fill="#d02020"/><rect x="1031" y="972" width="4" height="5" fill="#d02020"/>
<use href="#sw" x="971" y="996"/><use href="#sw" x="1001" y="996"/><use href="#sw" x="1024" y="996"/><use href="#sw" x="1056" y="996"/>
<g class="a"><text x="971" y="999">ON</text><text x="1001" y="999">ON</text><text x="1024" y="999">ON</text><text x="1056" y="999">ON</text></g>
<g class="l" font-size="5.5"><text x="971" y="1013">L WING</text><text x="1001" y="1013">L COWL</text><text x="1025" y="1013">R COWL</text><text x="1056" y="1013">R WING</text></g>

<!-- BOTTOM STRIP -->
<g stroke="#ddd" stroke-width="0.8"><line x1="605" y1="1026" x2="605" y2="1070"/><line x1="684" y1="1026" x2="684" y2="1122"/><line x1="752" y1="1026" x2="752" y2="1122"/><line x1="842" y1="1026" x2="842" y2="1122"/><line x1="888" y1="1026" x2="888" y2="1122"/><line x1="1028" y1="1026" x2="1028" y2="1122"/></g>
<text class="s" x="538" y="1035" font-size="7.5">EXTERIOR LTS</text>
<g class="l" font-size="5.5"><text x="494" y="1043">BCN</text><text x="516" y="1043">STROBE</text><text x="538" y="1043">NAV</text><text x="561" y="1043">ICE</text><text x="583" y="1043">LOGO</text></g>
<use href="#sw" x="494" y="1055"/><use href="#sw" x="516" y="1055"/><use href="#sw" x="538" y="1055"/><use href="#sw" x="561" y="1055"/><use href="#sw" x="583" y="1055"/>
<g class="a"><text x="494" y="1058">ON</text><text x="516" y="1058">ON</text><text x="538" y="1058">ON</text><text x="561" y="1058">ON</text><text x="583" y="1058">ON</text></g>
<text class="s" x="643" y="1035" font-size="7.5">MASTER</text>
<g class="l" font-size="5.5"><text x="622" y="1043">CABIN</text><text x="644" y="1043">GALLEY</text><text x="666" y="1043">RADIO</text></g>
<use href="#sw" x="622" y="1055"/><use href="#sw" x="644" y="1055"/><use href="#sw" x="666" y="1055"/>
<g class="a"><text x="622" y="1058">ON</text><text x="644" y="1058">ON</text><text x="666" y="1058">ON</text></g>
<text class="l" x="560" y="1074">WTP</text><text class="l" x="560" y="1080" font-size="5">FLOOD</text>
<path d="M585,1077 H684" stroke="#ddd" stroke-dasharray="5 3"/><path d="M585,1077 V1120" stroke="#ddd" stroke-dasharray="5 3"/>
<text class="s" x="631" y="1084" font-size="7.5">DISPLAYS</text>
<g class="l" font-size="5.5"><text x="494" y="1096">L LDG</text><text x="516" y="1096">R LDG</text><text x="538" y="1096">TAXI</text><text x="561" y="1096">PULSELITE</text><text x="596" y="1094">PILOT</text><text x="630" y="1094">EICAS</text><text x="664" y="1094">COPILOT</text></g>
<use href="#sw" x="494" y="1107"/><use href="#sw" x="516" y="1107"/><use href="#sw" x="538" y="1107"/><use href="#sw" x="561" y="1107"/>
<g class="a"><text x="494" y="1110">ON</text><text x="516" y="1110">ON</text><text x="538" y="1110">ON</text><text x="561" y="1110">ON</text></g>
<use href="#gs" x="596" y="1108"/><use href="#gs" x="630" y="1108"/><use href="#gs" x="664" y="1108"/>
<g class="a"><text x="596" y="1111">OFF</text><text x="630" y="1111">OFF</text><text x="664" y="1111">OFF</text></g>
<text class="s" x="718" y="1035" font-size="8">FIRE  TEST</text>
<text class="l" x="702" y="1043" font-size="5.5">L ENG</text><text class="l" x="736" y="1043" font-size="5.5">R ENG</text>
<rect x="692" y="1045" width="20" height="23" fill="#e02020"/><rect x="726" y="1045" width="20" height="23" fill="#e02020"/>
<rect x="697" y="1050" width="10" height="12" fill="#ff5a4a"/><rect x="731" y="1050" width="10" height="12" fill="#ff5a4a"/>
<text class="l" x="703" y="1096" font-size="5.5">APU</text>
<use href="#sw" x="703" y="1108"/><text class="a" x="703" y="1110" font-size="5">TEST</text>
<text class="s" x="798" y="1067" font-size="7">EMERG POWER</text>
<g class="l" font-size="5.5"><text x="773" y="1076">ON</text><text x="798" y="1076">ARM</text><text x="825" y="1076">OFF</text></g>
<use href="#gs" x="773" y="1096"/><use href="#gs" x="798" y="1096"/><use href="#gs" x="825" y="1096"/>
<g class="a" font-size="4"><text x="773" y="1096">1 ON</text><text x="798" y="1096">NO 1</text><text x="825" y="1096">OFF 1</text></g>
<text class="l" x="865" y="1033">PASS WARN</text><text class="l" x="865" y="1040">ST BELT</text>
<use href="#sw" x="865" y="1053"/><text class="a" x="865" y="1056">ON</text>
<text class="l" x="865" y="1096">NO SMK/ST BLT</text>
<use href="#sw" x="865" y="1108"/><text class="a" x="865" y="1111">ON</text>
<text class="s" x="958" y="1032" font-size="6.5">WINDSHIELD WIPER</text>
<g class="l" font-size="5.5"><text x="914" y="1042">L WIPER</text><text x="938" y="1042">LO/HI</text><text x="980" y="1042">R WIPER</text><text x="1004" y="1042">LO/HI</text></g>
<use href="#gs" x="914" y="1054"/><use href="#sw" x="938" y="1054"/><use href="#gs" x="980" y="1054"/><use href="#sw" x="1004" y="1054"/>
<g class="a"><text x="914" y="1057">OFF</text><text x="938" y="1057">HI</text><text x="980" y="1057">OFF</text><text x="1004" y="1057">HI</text></g>
<text class="s" x="958" y="1081" font-size="7">ANTI ICE HTR</text>
<g class="l" font-size="5"><text x="900" y="1093">AOA</text><text x="923" y="1093">PITOT</text><text x="945" y="1088">STBY</text><text x="945" y="1093">PITOT</text><text x="968" y="1088">WINDSHIELD</text><text x="968" y="1093">L/FWD</text><text x="990" y="1093">RFLS</text><text x="1012" y="1088">BATTAS</text><text x="1012" y="1093">GND BYPASS</text></g>
<use href="#sw" x="900" y="1105"/><use href="#sw" x="923" y="1105"/><use href="#sw" x="945" y="1105"/><use href="#sw" x="968" y="1105"/><use href="#sw" x="990" y="1105"/><use href="#sw" x="1012" y="1105"/>
<g class="a"><text x="900" y="1108">OFF</text><text x="923" y="1108">OFF</text><text x="945" y="1108">OFF</text><text x="968" y="1108">OFF</text><text x="990" y="1108">ON</text><text x="1012" y="1108">ON</text></g>
<text class="l" x="1062" y="1033" font-size="5.5">HYDRAULIC CONTROL</text>
<text class="s" x="1062" y="1041" font-size="6.5">UTILITY PUMP</text>
<text class="l" x="1062" y="1049" font-size="5.5">OFF/ARM  ON</text>
<use href="#sw" x="1051" y="1061"/><use href="#sw" x="1073" y="1061"/>
<text class="a" x="1051" y="1060" font-size="5">NOT</text><text class="a" x="1051" y="1066" font-size="5">ARM</text><text class="a" x="1073" y="1064">ON</text>
<text class="s" x="1062" y="1086" font-size="6.5">AUX PUMP</text>
<text class="l" x="1062" y="1093" font-size="5.5">OFF/ARM  ON</text>
<use href="#sw" x="1051" y="1106"/><use href="#sw" x="1073" y="1106"/>
<text class="a" x="1051" y="1105" font-size="5">NOT</text><text class="a" x="1051" y="1111" font-size="5">ARM</text><text class="a" x="1073" y="1109">ON</text>

<!-- screws -->
<g fill="none" stroke="#555" stroke-width="1">
<circle cx="248" cy="478" r="4"/><circle cx="248" cy="641" r="4"/><circle cx="1320" cy="478" r="4"/><circle cx="1320" cy="641" r="4"/><circle cx="1320" cy="800" r="4"/>
<circle cx="514" cy="467" r="3.5"/><circle cx="635" cy="467" r="3.5"/><circle cx="710" cy="467" r="3.5"/><circle cx="957" cy="467" r="3.5"/><circle cx="1085" cy="467" r="3.5"/>
<circle cx="443" cy="1003" r="3.5"/><circle cx="1123" cy="1003" r="3.5"/>
</g>

<!-- logo -->
<g fill="#1a5a98">
<path d="M100,1007 L103,1020 L103,1030 L127,1040 L127,1044 L104,1040 L103,1052 L110,1058 L110,1061 L100,1058 L90,1061 L90,1058 L97,1052 L96,1040 L73,1044 L73,1040 L97,1030 L97,1020 Z"/>
</g>
<path d="M30,1066 Q55,1060 85,1061 L95,1055 L97,1056 L92,1064 L55,1068 Z" fill="#3a8fc8"/>
<path d="M112,1063 L162,1061 L112,1065 Z" fill="#9ab9d9"/><circle cx="140" cy="1060" r="3" fill="#9ab9d9"/>
<text x="88" y="1092" font-size="17" text-anchor="middle" fill="#222" font-family="DejaVu Sans,sans-serif">Gulfstream IV</text>
<text x="88" y="1106" font-size="12" text-anchor="middle" fill="#222" font-family="DejaVu Sans,sans-serif">Overhead Panel</text>
<g font-size="3.6" fill="#444" text-anchor="middle"><text x="102" y="1116">This graphic is for entertainment purposes only</text><text x="102" y="1121">Copyright 2011-2021 JETPUBS INC.</text><text x="102" y="1127">No guarantee is made or implied regarding accuracy.</text><text x="102" y="1132">This portion of these images may be copied</text><text x="102" y="1137">without permission from JETPUBS INC.</text><text x="102" y="1142">032111</text></g>
<path d="M1445,1125 L1480,1114 L1500,1112 L1470,1124 Z" fill="#2a64b0"/>
<text x="1512" y="1124" font-size="13" font-weight="bold" font-style="italic" fill="#2a64b0" text-anchor="middle">JETPUBS</text>
<text x="1528" y="1130" font-size="4" fill="#2a64b0" text-anchor="middle">Elevating Aviation</text>
<text x="1487" y="1136" font-size="3.6" fill="#444" text-anchor="middle">900 Crest View Drive • Suite 100 • Hudson, WI 54016</text>
<text x="1497" y="1141" font-size="3.6" fill="#444" text-anchor="middle">www.jetpubs.com • 715.220.4232</text>
</svg>
</body></html>
